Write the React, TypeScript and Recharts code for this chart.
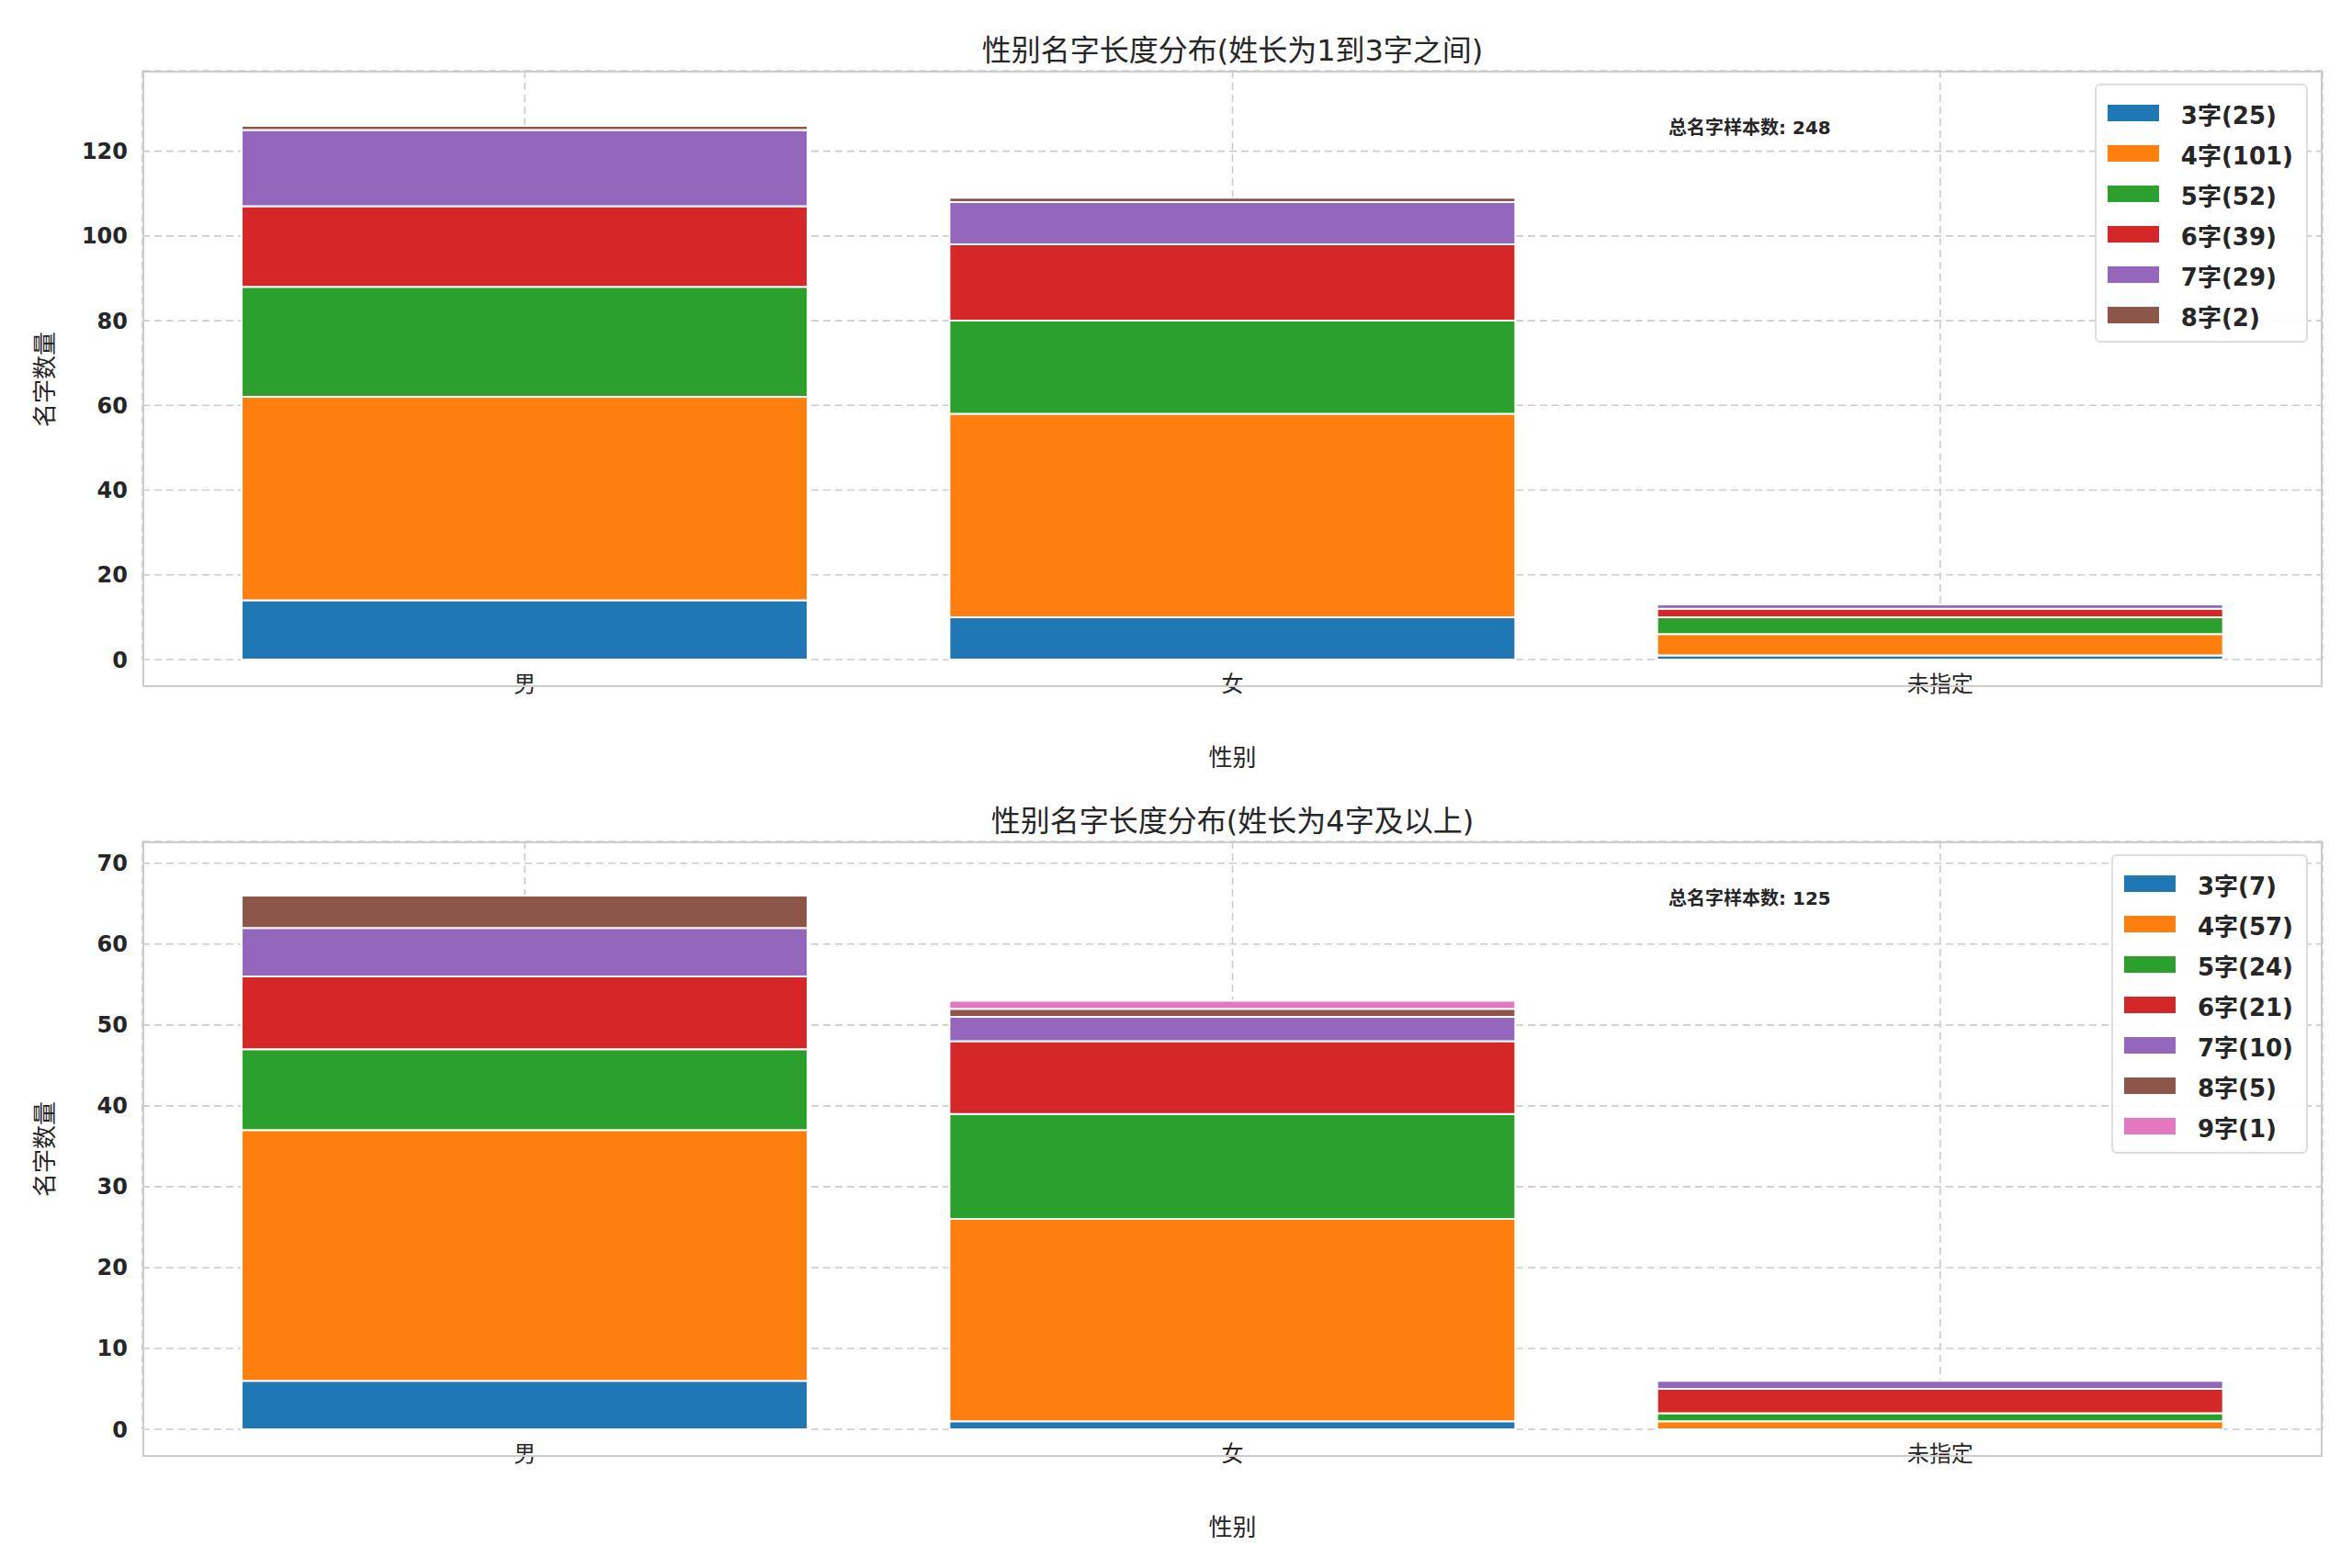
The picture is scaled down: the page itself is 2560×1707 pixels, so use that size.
import React from "react";
import { BarChart, Bar, XAxis, YAxis, CartesianGrid, LabelList } from "recharts";

const genders = ["男", "女", "未指定"];
const lengthKeys = ["3字", "4字", "5字", "6字", "7字", "8字", "9字"];
const colors = ["#1f77b4", "#ff7f0e", "#2ca02c", "#d62728", "#9467bd", "#8c564b", "#e377c2"];

// top panel: rows per length, columns per gender
const topValues = [
  [14, 10, 1],
  [48, 48, 5],
  [26, 22, 4],
  [19, 18, 2],
  [18, 10, 1],
  [1, 1, 0],
];
const bottomValues = [
  [6, 1, 0],
  [31, 25, 1],
  [10, 13, 1],
  [9, 9, 3],
  [6, 3, 1],
  [4, 1, 0],
  [0, 1, 0],
];
const topTicks = [0, 20, 40, 60, 80, 100, 120];
const bottomTicks = [0, 10, 20, 30, 40, 50, 60, 70];

const FONT = "'DejaVu Sans', 'Noto Sans CJK SC', sans-serif";
const TXT = "#262626";

function buildRows(values: number[][]) {
  return genders.map((g, gi) => {
    const row: any = { gender: g, zero: 0, total: 0 };
    values.forEach((v, li) => {
      row[lengthKeys[li]] = v[gi];
      row.total += v[gi];
    });
    return row;
  });
}

interface PanelProps {
  values: number[][];
  ticks: number[];
  yMax: number;
  title: string;
  top: number;
  height: number;
  plotTop: number;
  plotBottom: number;
}

function Panel({ values, ticks, yMax, title, top, height, plotTop, plotBottom }: PanelProps) {
  const rows = buildRows(values);
  const keys = lengthKeys.slice(0, values.length);
  const totals = keys.map((_, i) => values[i].reduce((a, b) => a + b, 0));
  const grand = totals.reduce((a, b) => a + b, 0);
  const plotH = height - plotTop - plotBottom;
  return (
    <div style={{ position: "absolute", left: 0, top, width: 2560, height, fontFamily: FONT }}>
      <BarChart
        width={2560}
        height={height}
        data={rows}
        margin={{ top: plotTop, right: 32, left: 60, bottom: plotBottom }}
        barCategoryGap="10%"
      >
        <CartesianGrid stroke="#cccccc" strokeDasharray="8 5" strokeWidth={1.6} />
        <XAxis
          dataKey="gender"
          padding={{ left: 31, right: 31 }}
          axisLine={false}
          tickLine={false}
          tick={{ fontSize: 24, fill: TXT, fontFamily: FONT }}
          tickMargin={12}
        />
        <YAxis
          width={95}
          domain={[0, yMax]}
          ticks={ticks}
          axisLine={false}
          tickLine={false}
          tick={{ fontSize: 24, fill: TXT, fontWeight: "bold", fontFamily: FONT }}
          tickMargin={10}
        />
        {keys.map((k, i) => (
          <Bar key={k} dataKey={k} stackId="s" fill={colors[i]} stroke="#ffffff" strokeWidth={2} isAnimationActive={false} />
        ))}
        <Bar dataKey="zero" stackId="s" fill="none" isAnimationActive={false}>
          <LabelList
            dataKey="total"
            position="top"
            offset={4}
            style={{ fontSize: 27, fontWeight: "bold", fill: TXT, fontFamily: FONT }}
          />
        </Bar>
      </BarChart>
      {/* frame */}
      <div style={{ position: "absolute", left: 155, top: plotTop, width: 2373, height: plotH, border: "2px solid #cccccc", boxSizing: "border-box", pointerEvents: "none" }} />
      <div style={{ position: "absolute", left: 155, width: 2373, top: plotTop - 48, textAlign: "center", fontSize: 32, color: TXT }}>{title}</div>
      <div style={{ position: "absolute", left: 155, width: 2373, top: plotTop + plotH + 56, textAlign: "center", fontSize: 26, color: TXT }}>性别</div>
      <div style={{ position: "absolute", left: 46, top: plotTop + plotH / 2, transform: "translate(-50%, -50%) rotate(-90deg)", fontSize: 26, color: TXT, whiteSpace: "nowrap" }}>名字数量</div>
      <div style={{ position: "absolute", left: 1816, top: plotTop + 46, fontSize: 20, fontWeight: "bold", color: TXT }}>总名字样本数: {grand}</div>
      <div style={{ position: "absolute", right: 48, top: plotTop + 14, background: "rgba(255,255,255,0.9)", border: "2px solid #dddddd", borderRadius: 6, padding: "8px 14px 6px 12px" }}>
        {keys.map((k, i) => (
          <div key={k} style={{ display: "flex", alignItems: "center", height: 44, fontSize: 26, fontWeight: "bold", color: TXT }}>
            <span style={{ width: 56, height: 18, background: colors[i], marginRight: 24, display: "inline-block" }} />
            {k}({totals[i]})
          </div>
        ))}
      </div>
    </div>
  );
}

export default function App() {
  return (
    <div style={{ position: "absolute", left: 0, top: 0, width: 2560, height: 1707, background: "#ffffff" }}>
      <Panel values={topValues} ticks={topTicks} yMax={139} title="性别名字长度分布(姓长为1到3字之间)" top={0} height={850} plotTop={77} plotBottom={102} />
      <Panel values={bottomValues} ticks={bottomTicks} yMax={72.7} title="性别名字长度分布(姓长为4字及以上)" top={850} height={857} plotTop={66} plotBottom={121} />
    </div>
  );
}
